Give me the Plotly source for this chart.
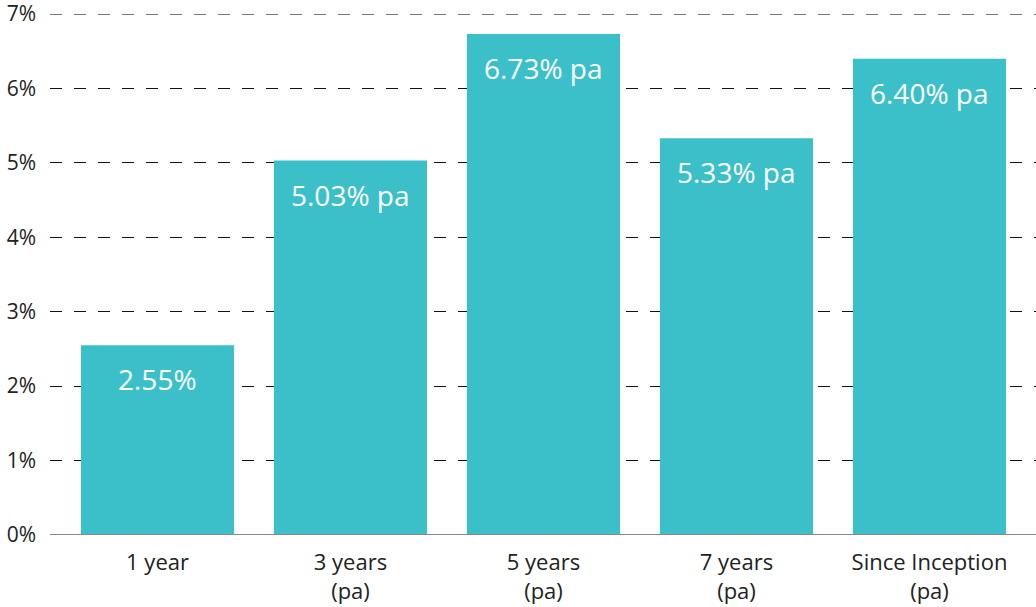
import plotly.graph_objects as go

categories = ["1 year", "3 years<br>(pa)", "5 years<br>(pa)", "7 years<br>(pa)", "Since Inception<br>(pa)"]
values = [2.55, 5.03, 6.73, 5.33, 6.40]
labels = ["2.55%", "5.03% pa", "6.73% pa", "5.33% pa", "6.40% pa"]
tick_vals = [0, 1, 2, 3, 4, 5, 6, 7]
tick_text = ["0%", "1%", "2%", "3%", "4%", "5%", "6%", "7%"]

FONT = "Open Sans"
BAR = "#3BC0CA"

fig = go.Figure()
fig.add_trace(go.Bar(
    x=list(range(len(categories))), y=values, marker=dict(color=BAR, line=dict(width=0)),
    hoverinfo="skip",
))
for i, (v, t) in enumerate(zip(values, labels)):
    fig.add_annotation(x=i, y=v, text=t, showarrow=False, yanchor="top", yshift=-13,
                       font=dict(family=FONT, size=28, color="white"))

fig.update_layout(
    width=1036, height=607,
    margin=dict(l=50, r=0, t=14, b=72, autoexpand=False),
    paper_bgcolor="white", plot_bgcolor="white",
    bargap=0.207, showlegend=False,
    font=dict(family=FONT, size=22, color="#222"),
    xaxis=dict(range=[-0.557, 4.552], tickvals=list(range(len(categories))), ticktext=categories,
               showgrid=False, zeroline=False, showline=False, ticks="",
               ticklabelstandoff=12, automargin=False,
               tickfont=dict(family=FONT, size=22, color="#222")),
    yaxis=dict(range=[0, 7], tickvals=tick_vals, ticktext=tick_text,
               showgrid=True, gridcolor="#111", gridwidth=1, griddash="12px,12px",
               zeroline=False, showline=False, ticks="", ticklabelstandoff=13,
               ticklabeloverflow="allow", automargin=False,
               tickfont=dict(family=FONT, size=21, color="#222")),
)
fig.add_hline(y=7, line=dict(color="#777", width=2, dash="12px,12px"), layer="above")
fig.add_hline(y=0, line=dict(color="#888", width=2), layer="above")
fig.write_html("out.html", config={"displayModeBar": False},
               post_script="document.body.style.margin='0';")
